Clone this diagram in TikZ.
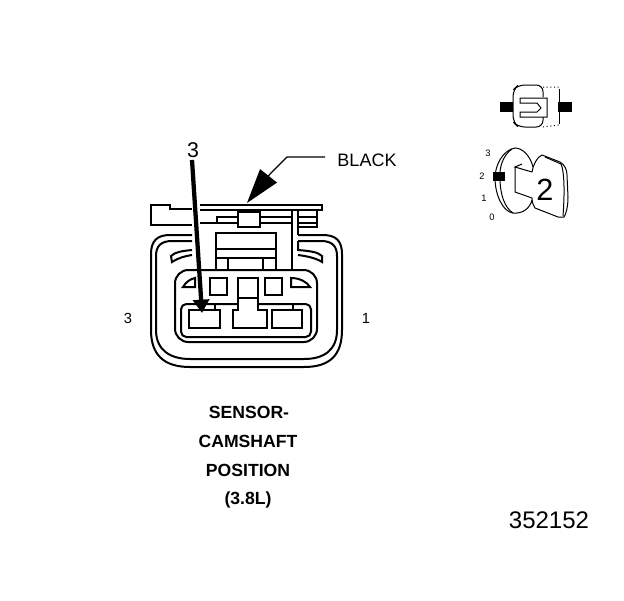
\documentclass[tikz,border=0pt]{standalone}
\usepackage{fontspec}
\setmainfont{Liberation Sans}
\usetikzlibrary{arrows.meta,calc,positioning}
\begin{document}
\begin{tikzpicture}
	[x=0.75pt,y=-0.75pt,line join=miter,
	wire/.style={line width=1.5pt},
	thinwire/.style={line width=0.75pt},
	label/.style={inner sep=0pt},
	bold/.style={inner sep=0pt,font=\fontsize{13.2}{15}\selectfont\bfseries},
	tiny/.style={inner sep=0pt,font=\fontsize{7}{8}\selectfont}]
	\useasboundingbox (0,0) rectangle (624,600);

	% housing
	\draw[wire] (192,235) -- (170,235) .. controls (157,235) and (151,241) .. (151,254) -- (151,330) .. controls (151,355) and (164,367) .. (190,367) -- (304,367) .. controls (330,367) and (342,355) .. (342,330) -- (342,254) .. controls (342,241) and (336,235) .. (323,235) -- (298,235);
	\draw[wire] (192,241) -- (172,241) .. controls (161,241) and (156,246) .. (156,256) -- (156,330) .. controls (156,350) and (170,359) .. (190,359) -- (304,359) .. controls (324,359) and (337,350) .. (337,330) -- (337,256) .. controls (337,246) and (332,241) .. (321,241) -- (298,241);
	% side slots
	\draw[wire] (192,250) .. controls (182,251) and (175,252) .. (171,256) -- (172,262) .. controls (178,258) and (185,256) .. (192,255);
	\draw[wire] (298,241) -- (298,250) .. controls (310,251) and (318,252) .. (322,256) -- (322,262) .. controls (316,258) and (306,256) .. (298,255);

	% top latch
	\draw[wire] (192,225) -- (151,225) -- (151,205) -- (170,205) -- (170,209) -- (192,209);
	\draw[wire] (200,205) -- (322,205) -- (322,210) -- (200,210);
	\draw[wire] (200,223) -- (238,223) (217,223) -- (217,217) -- (238,217);
	\draw[wire] (238,212) rectangle (260,227);
	\draw[wire] (260,217) -- (292,217) (260,223) -- (292,223);
	\draw[wire] (292,210) -- (292,270);
	\draw[wire] (298,210) -- (298,235);
	\draw[wire] (298,217) -- (317,217) (298,223) -- (317,223);
	\draw[wire] (317,210) -- (317,227) -- (298,227);

	% centre block
	\draw[wire] (216,270) -- (216,233) -- (276,233) -- (276,270);
	\draw[wire] (216,249) -- (276,249);
	\draw[wire] (216,258) -- (276,258);
	\draw[wire] (228,258) -- (228,270) (263,258) -- (263,270);

	% cavity
	\draw[wire,rounded corners=10pt] (175,342) rectangle (317,270);
	\draw[wire,rounded corners=4pt] (238,304) -- (181,304) -- (181,337) -- (311,337) -- (311,304) -- (258,304);
	\foreach \slotX in {210,265}{
		\draw[wire] (\slotX,278) rectangle +(17,17);
	}
	\draw[wire] (238,278) rectangle (258,298);
	\draw[wire] (183,287) .. controls (186,282) and (190,279) .. (195,278) -- (195,287) -- cycle;
	\draw[wire] (291,287) -- (291,278) .. controls (300,278) and (307,282) .. (310,287) -- cycle;

	% terminals
	\draw[wire] (215,304) -- (215,310) -- (189,310) -- (189,328) -- (220,328) -- (220,310) -- (215,310);
	\draw[wire] (238,298) -- (238,310) -- (233,310) -- (233,328) -- (267,328) -- (267,310) -- (258,310) -- (258,298);
	\draw[wire] (293,304) -- (293,310) -- (272,310) -- (272,328) -- (302,328) -- (302,310) -- (293,310);

	% leaders
	\node[label,font=\fontsize{16}{18}\selectfont] (pin) at (193,150) {3};
	\coordinate (pinstart) at (192,160);
	\coordinate (pinend) at (202,313);
	\draw[-{Triangle[length=10pt,width=12pt]},line width=3.2pt] (pinstart) -- (pinend);
	\node[label,font=\fontsize{13.5}{15}\selectfont] (black) at (367,160) {BLACK};
	\coordinate (leadstart) at (325,157);
	\coordinate (bend) at (287,157);
	\coordinate (headstart) at (270,174);
	\coordinate (blackend) at (247,203);
	\draw[line width=1pt] (leadstart) -- (bend) -- (headstart);
	\draw[-{Triangle[length=26pt,width=16pt]},line width=1pt] (headstart) -- (blackend);

	% side numbers
	\node[label,font=\fontsize{11}{13}\selectfont] (left) at (128,318) {3};
	\node[label,font=\fontsize{11}{13}\selectfont] (right) at (366,318) {1};

	% caption
	\node[bold] (c1) at (249,412) {SENSOR-};
	\node[bold] (c2) at (248,441) {CAMSHAFT};
	\node[bold] (c3) at (248,470) {POSITION};
	\node[bold] (c4) at (248,500) {(3.8L)};
	\node[label,font=\fontsize{18}{20}\selectfont] (ref) at (549,520) {352152};

	% lock icon
	\fill (500,102) rectangle (513,112);
	\fill (558,102) rectangle (572,112);
	\draw[thinwire,rounded corners=5pt] (543,97) -- (543,85) -- (518,85) -- (513,90) -- (513,122) -- (518,127) -- (543,127) -- (543,117);
	\draw[thinwire,dotted] (543,87) -- (559,87) (543,127) -- (559,125);
	\draw[thinwire] (559,89) -- (559,124);
	\draw[thinwire] (520,98) -- (547,98) -- (547,117) -- (520,117) -- (520,112) -- (537,112) -- (541,108) -- (537,103) -- (520,103) -- cycle;

	% key icon
	\node[tiny] (k3) at (488,153) {3};
	\node[tiny] (k2) at (482,176) {2};
	\node[tiny] (k1) at (484,198) {1};
	\node[tiny] (k0) at (492,217) {0};
	\draw[thinwire] (533,167) .. controls (530,155) and (522,148) .. (515,148) .. controls (503,150) and (495,165) .. (495,178) .. controls (495,195) and (503,212) .. (513,213) .. controls (523,214) and (530,208) .. (532,200);
	\draw[thinwire] (512,149) .. controls (503,155) and (499,168) .. (500,178) .. controls (500,195) and (505,208) .. (513,213);
	\fill (493,172) rectangle (505,181);
	\draw[thinwire] (522,164) -- (515,167) -- (532,172) (515,167) -- (515,192) -- (532,198);
	\draw[thinwire] (532,172) .. controls (533,165) and (537,157) .. (542,155) -- (560,162) .. controls (565,165) and (567,170) .. (567,175) -- (568,197) .. controls (568,207) and (566,214) .. (564,217) -- (558,217) -- (535,208) .. controls (533,205) and (532,202) .. (532,198);
	\draw[thinwire] (545,157) -- (561,164) .. controls (564,170) and (565,190) .. (563,216);
	\node[label,font=\fontsize{23}{25}\selectfont] (key) at (545,190) {2};
\end{tikzpicture}
\end{document}
